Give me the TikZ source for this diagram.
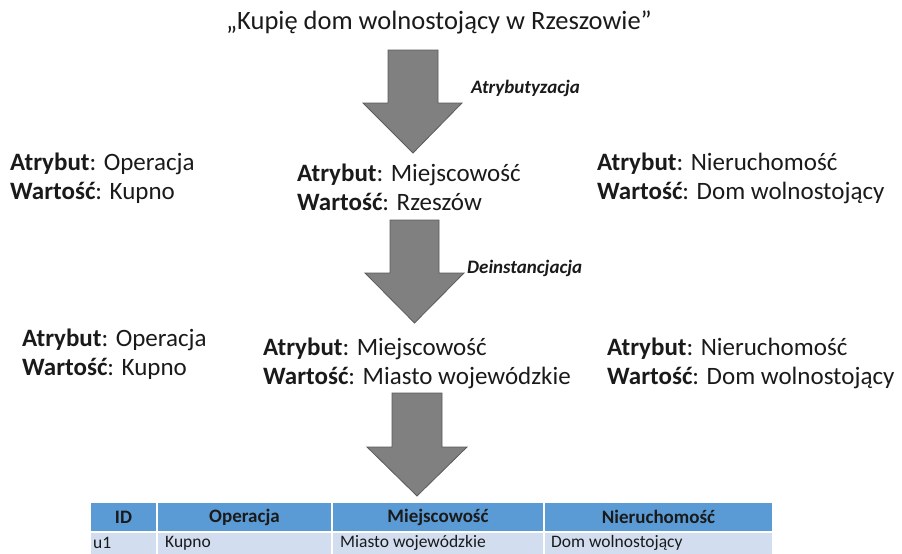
\documentclass[tikz,border=0pt]{standalone}
\usepackage{fontspec}
\setmainfont{Carlito}
\usetikzlibrary{positioning}

\definecolor{headblue}{HTML}{5B9BD5}
\definecolor{rowblue}{HTML}{D2DEEF}
\definecolor{arrowgray}{HTML}{808080}
\definecolor{arrowedge}{HTML}{5A5A5A}
\definecolor{inkblack}{HTML}{1A1A1A}

\tikzset{
  attrblock/.style={inner sep=0pt, anchor=west, align=left, text=inkblack,
    font=\fontsize{25}{29}\selectfont},
  stagelabel/.style={inner sep=0pt, anchor=west, text=inkblack,
    font=\fontsize{19}{21}\selectfont\bfseries\itshape},
  bigarrow/.style={fill=arrowgray, draw=arrowedge, line width=0.8pt, line join=miter},
  headcell/.style={fill=headblue, draw=white, line width=1.5pt},
  rowcell/.style={fill=rowblue, draw=white, line width=1.5pt},
  headtext/.style={inner sep=0pt, text=inkblack, font=\fontsize{19}{21}\selectfont\bfseries},
  rowtext/.style={inner sep=0pt, anchor=west, text=inkblack, font=\fontsize{17.5}{19}\selectfont}
}

\begin{document}
\begin{tikzpicture}[x=1pt,y=-1pt]

            \useasboundingbox (0,0) rectangle (902,554);
            \clip (0,0) rectangle (902,554);

            % sentence
            \node[inner sep=0pt, anchor=base, text=inkblack, font=\fontsize{26.5}{30}\selectfont]
              (sentence) at (439, 29) {„Kupię dom wolnostojący w Rzeszowie”};

            % first arrow
            \draw[bigarrow] (388, 50) -- (438, 50) -- (438, 103) -- (462, 103)
            -- (413, 153) -- (363, 103) -- (388, 103) -- cycle;
            \node[stagelabel] (atryb) at (471, 88) {Atrybutyzacja};

            % attributes after first step
            \node[attrblock] (op1) at (10, 178) {\textbf{Atrybut}: Operacja\\\textbf{Wartość}: Kupno};
            \node[attrblock] (loc1) at (297, 187) {\textbf{Atrybut}: Miejscowość\\\textbf{Wartość}: Rzeszów};
            \node[attrblock] (prop1) at (597, 178) {\textbf{Atrybut}: Nieruchomość\\\textbf{Wartość}: Dom wolnostojący};

            % second arrow
            \draw[bigarrow] (390, 220) -- (439, 220) -- (439, 273) -- (464, 273)
            -- (414.5, 323) -- (365, 273) -- (390, 273) -- cycle;
            \node[stagelabel] (deinst) at (467, 268) {Deinstancjacja};

            % attributes after second step
            \node[attrblock] (op2) at (22, 354) {\textbf{Atrybut}: Operacja\\\textbf{Wartość}: Kupno};
            \node[attrblock] (loc2) at (263, 363) {\textbf{Atrybut}: Miejscowość\\\textbf{Wartość}: Miasto wojewódzkie};
            \node[attrblock] (prop2) at (607, 363) {\textbf{Atrybut}: Nieruchomość\\\textbf{Wartość}: Dom wolnostojący};

            % third arrow
            \draw[bigarrow] (392, 393) -- (442, 393) -- (442, 447) -- (467, 447)
            -- (417, 496) -- (367, 447) -- (392, 447) -- cycle;

            % table
            \draw[headcell] (90, 502) rectangle (157, 532);
            \draw[headcell] (157, 502) rectangle (332, 532);
            \draw[headcell] (332, 502) rectangle (544, 532);
            \draw[headcell] (544, 502) rectangle (773, 532);

            \draw[rowcell] (90, 532) rectangle (157, 564);
            \draw[rowcell] (157, 532) rectangle (332, 564);
            \draw[rowcell] (332, 532) rectangle (544, 564);
            \draw[rowcell] (544, 532) rectangle (773, 564);

            \node[headtext] (hid) at (123.5, 517) {ID};
            \node[headtext] (hop) at (244.5, 517) {Operacja};
            \node[headtext] (hloc) at (438, 517) {Miejscowość};
            \node[headtext] (hprop) at (658.5, 517) {Nieruchomość};

            \node[rowtext] (cid) at (93, 543) {u1};
            \node[rowtext] (cop) at (165, 543) {Kupno};
            \node[rowtext] (cloc) at (340, 543) {Miasto wojewódzkie};
            \node[rowtext] (cprop) at (551, 543) {Dom wolnostojący};

        \end{tikzpicture}
\end{document}
